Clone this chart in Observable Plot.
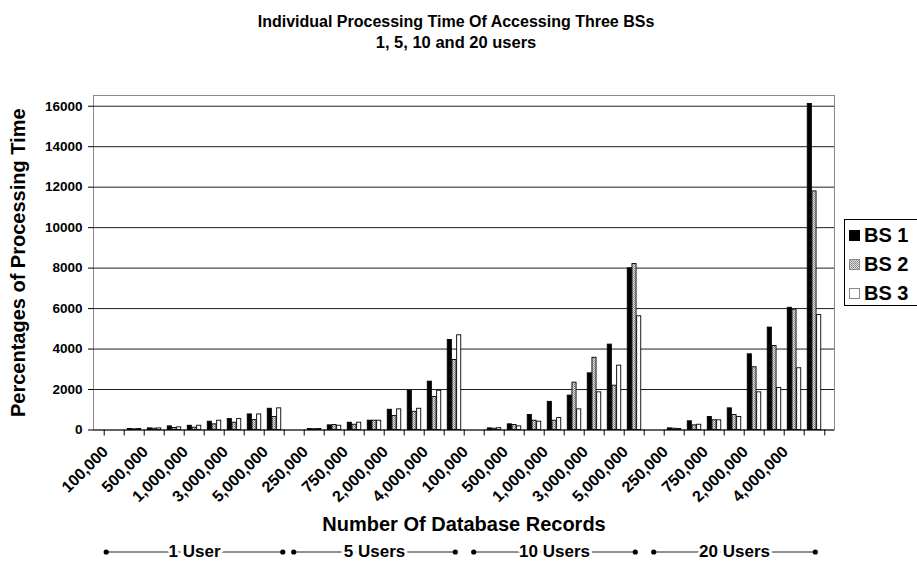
<!DOCTYPE html>
<html>
<head>
<meta charset="utf-8">
<script src="https://cdn.jsdelivr.net/npm/d3@7"></script>
<script src="https://cdn.jsdelivr.net/npm/@observablehq/plot@0.6"></script>
<style>
  html, body { margin: 0; padding: 0; background: #fff; overflow: hidden; }
  #wrap { position: relative; width: 917px; height: 561px; font-family: "Liberation Sans", Arial, sans-serif; }
  #legend { position: absolute; left: 844px; top: 219px; width: 100px; height: 87px;
            border: 1px solid #000; box-sizing: border-box; background: #fff; }
  #legend .row { position: absolute; left: 4px; height: 20px; display: flex; align-items: center;
                 font-weight: bold; font-size: 20px; line-height: 20px; }
  #legend svg { margin-right: 4px; }
</style>
</head>
<body>
<svg width="0" height="0" style="position:absolute">
  <defs>
    <pattern id="bs2-dots" width="2" height="2" patternUnits="userSpaceOnUse">
      <rect width="2" height="2" fill="#e2e2e2"></rect>
      <rect width="1" height="1" fill="#7a7a7a"></rect>
      <rect x="1" y="1" width="1" height="1" fill="#9a9a9a"></rect>
    </pattern>
  </defs>
</svg>
<div id="wrap"></div>
<script>
// Chart text
const titleLines = ["Individual Processing Time Of Accessing Three BSs", "1, 5, 10 and 20 users"];
const yTitle = "Percentages of Processing Time";
const xTitle = "Number Of Database Records";

// Categories
const userGroups = ["1 User", "5 Users", "10 Users", "20 Users"];
const recordCounts = ["100,000", "250,000", "500,000", "750,000", "1,000,000",
                      "2,000,000", "3,000,000", "4,000,000", "5,000,000"];
const seriesNames = ["BS 1", "BS 2", "BS 3"];
const yTicks = [0, 2000, 4000, 6000, 8000, 10000, 12000, 14000, 16000];

// Processing time (%) per record count, one array per user group and base station
const users1_bs1  = [0, 50, 80, 180, 210, 410, 540, 770, 1050];
const users1_bs2  = [0, 35, 65, 100, 115, 280, 360, 490, 640];
const users1_bs3  = [0, 50, 80, 130, 210, 460, 540, 770, 1070];

const users5_bs1  = [0, 50, 230, 360, 460, 1000, 1940, 2390, 4450];
const users5_bs2  = [0, 40, 250, 260, 460, 690, 900, 1630, 3460];
const users5_bs3  = [0, 50, 210, 360, 460, 1020, 1050, 1940, 4680];

const users10_bs1 = [0, 80, 280, 740, 1390, 1700, 2800, 4220, 7990];
const users10_bs2 = [0, 65, 250, 460, 460, 2340, 3570, 2190, 8200];
const users10_bs3 = [0, 90, 180, 410, 590, 1020, 1860, 3180, 5620];

const users20_bs1 = [0, 80, 430, 640, 1070, 3740, 5060, 6040, 16110];
const users20_bs2 = [0, 65, 230, 480, 740, 3100, 4150, 5950, 11790];
const users20_bs3 = [0, 50, 260, 480, 640, 1860, 2080, 3050, 5680];

const valuesByGroup = [
  [users1_bs1, users1_bs2, users1_bs3],
  [users5_bs1, users5_bs2, users5_bs3],
  [users10_bs1, users10_bs2, users10_bs3],
  [users20_bs1, users20_bs2, users20_bs3]
];

// One band per (user group, record count)
const keyOf = (g, r) => `${g}|${r}`;
const keys = userGroups.flatMap(g => recordCounts.map(r => keyOf(g, r)));

const rows = [];
userGroups.forEach((g, gi) => {
  seriesNames.forEach((s, si) => {
    recordCounts.forEach((r, ri) => {
      rows.push({key: keyOf(g, r), group: g, records: r, series: s, value: valuesByGroup[gi][si][ri]});
    });
  });
});

const groupInfo = userGroups.map(g => ({
  name: g,
  first: keyOf(g, recordCounts[0]),
  mid: keyOf(g, recordCounts[4]),
  last: keyOf(g, recordCounts[recordCounts.length - 1])
}));

// Layout
const W = 917, H = 561;
const mL = 93, mR = 83, mT = 95, mB = 131.5;
const step = (W - mL - mR) / keys.length;
const barW = step * 0.228;
const pad = (step - 3 * barW) / 2;
const fills = {"BS 1": "#000", "BS 2": "url(#bs2-dots)", "BS 3": "#fff"};
const rowDy = 122;

const bars = seriesNames.map((s, i) => Plot.barY(rows.filter(d => d.series === s && d.value > 0), {
  x: "key", y: "value",
  fill: fills[s], stroke: "#000", strokeWidth: 0.9,
  insetLeft: pad + i * barW, insetRight: pad + (2 - i) * barW
}));

function groupRow(data, inset) {
  return [
    Plot.ruleY(data, {x1: "first", x2: "last", y: () => 0, dy: rowDy, stroke: "#222",
                      insetLeft: inset, insetRight: inset}),
    Plot.dot(data, {x: "first", y: () => 0, dy: rowDy, dx: -step / 2 + inset, r: 2.6, fill: "#000", stroke: null}),
    Plot.dot(data, {x: "last", y: () => 0, dy: rowDy, dx: step / 2 - inset, r: 2.6, fill: "#000", stroke: null})
  ];
}

const chart = Plot.plot({
  width: W, height: H,
  marginLeft: mL, marginRight: mR, marginTop: mT, marginBottom: mB,
  style: {fontFamily: "'Liberation Sans', Arial, sans-serif", color: "#000", background: "#fff"},
  x: {domain: keys, padding: 0},
  y: {domain: [0, 16530]},
  marks: [
    Plot.frame({stroke: "#8a8a8a"}),
    Plot.ruleY(yTicks.filter(d => d > 0), {stroke: "#1e1e1e"}),
    ...bars,
    Plot.ruleY([0], {stroke: "#000"}),
    Plot.axisY(yTicks, {tickSize: 5, tickPadding: 6, tickFormat: d => String(d),
                        fontSize: 13.5, fontWeight: "bold", label: null}),
    // tick marks sit on the band boundaries, like a category axis
    Plot.axisX(keys, {tickSize: 6, tickFormat: () => "", dx: -step / 2, label: null}),
    Plot.axisX(keys.slice(-1), {tickSize: 6, tickFormat: () => "", dx: step / 2, label: null}),
    Plot.axisX(keys.filter((k, i) => i % 2 === 0), {
      tickSize: 0, tickPadding: 0, tickRotate: -45,
      tickFormat: k => k.split("|")[1],
      fontSize: 16, fontWeight: "bold", dx: -9, dy: 19, label: null
    }),
    Plot.text([titleLines[0]], {text: d => d, frameAnchor: "top", lineAnchor: "middle", dx: -8, dy: -74,
                                fontSize: 16, fontWeight: "bold"}),
    Plot.text([titleLines[1]], {text: d => d, frameAnchor: "top", lineAnchor: "middle", dx: -8, dy: -53,
                                fontSize: 16.5, fontWeight: "bold"}),
    Plot.text([yTitle], {text: d => d, frameAnchor: "left", textAnchor: "middle", lineAnchor: "middle",
                         rotate: -90, dx: -75, fontSize: 20, fontWeight: "bold"}),
    Plot.text([xTitle], {text: d => d, frameAnchor: "bottom", lineAnchor: "middle", dy: 95,
                         fontSize: 20, fontWeight: "bold"}),
    ...groupRow(groupInfo.slice(0, 1), 2),
    ...groupRow(groupInfo.slice(1), 9.5),
    Plot.text(groupInfo, {x: "mid", y: () => 0, dy: rowDy, text: "name", fontSize: 17, fontWeight: "bold",
                          fill: "#000", stroke: "#fff", strokeWidth: 6, paintOrder: "stroke"})
  ]
});

const wrap = document.getElementById("wrap");
wrap.appendChild(chart);

// Legend
const legend = document.createElement("div");
legend.id = "legend";
seriesNames.forEach((s, i) => {
  const row = document.createElement("div");
  row.className = "row";
  row.style.top = (5 + i * 29) + "px";
  const border = s === "BS 1" ? "#000" : "#8a8a8a";
  row.innerHTML = `<svg width="11" height="11"><rect x="0.5" y="0.5" width="10" height="10" fill="${fills[s]}" stroke="${border}"></rect></svg><span>${s}</span>`;
  legend.appendChild(row);
});
wrap.appendChild(legend);
</script>
</body>
</html>
